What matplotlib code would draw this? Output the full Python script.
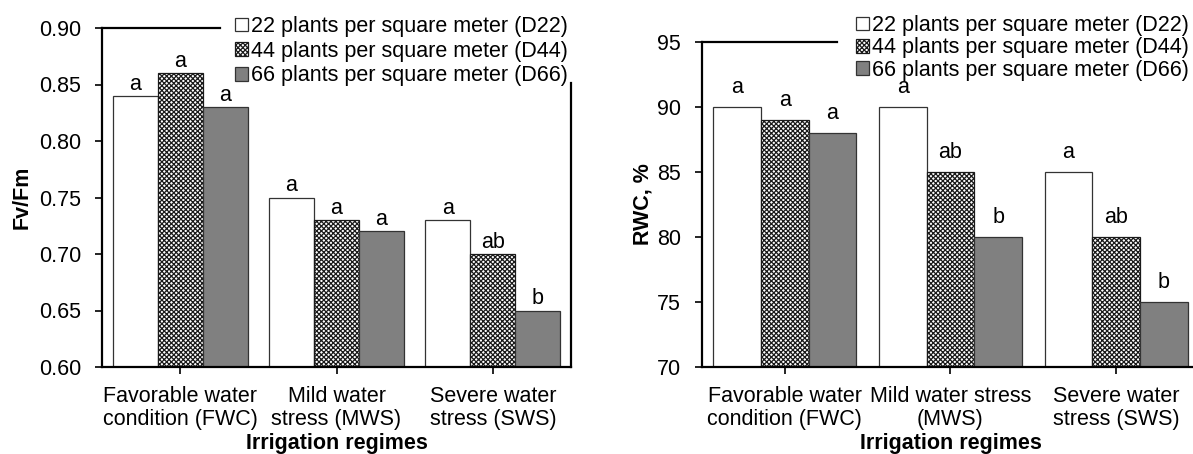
import matplotlib
matplotlib.use("Agg")
import matplotlib.pyplot as plt
import numpy as np

plt.rcParams['font.family'] = ['Liberation Sans', 'DejaVu Sans']
plt.rcParams['hatch.linewidth'] = 0.9

# ---- data ----
categories_left = ["Favorable water\ncondition (FWC)", "Mild water\nstress (MWS)", "Severe water\nstress (SWS)"]
categories_right = ["Favorable water\ncondition (FWC)", "Mild water stress\n(MWS)", "Severe water\nstress (SWS)"]
series_names = ["22 plants per square meter (D22)",
                "44 plants per square meter (D44)",
                "66 plants per square meter (D66)"]

fvfm_d22 = [0.84, 0.75, 0.73]
fvfm_d44 = [0.86, 0.73, 0.70]
fvfm_d66 = [0.83, 0.72, 0.65]
fvfm_letters_d22 = ["a", "a", "a"]
fvfm_letters_d44 = ["a", "a", "ab"]
fvfm_letters_d66 = ["a", "a", "b"]

rwc_d22 = [90, 90, 85]
rwc_d44 = [89, 85, 80]
rwc_d66 = [88, 80, 75]
rwc_letters_d22 = ["a", "a", "a"]
rwc_letters_d44 = ["a", "ab", "ab"]
rwc_letters_d66 = ["a", "b", "b"]

fvfm_ticks = [0.60, 0.65, 0.70, 0.75, 0.80, 0.85, 0.90]
rwc_ticks = [70, 75, 80, 85, 90, 95]

# ---- style ----
FS = 15.5
W, H = 1193, 454
fig = plt.figure(figsize=(W / 100, H / 100), dpi=100)

styles = [
    dict(facecolor="white", edgecolor="#333333", hatch=None),
    dict(facecolor="white", edgecolor="#1a1a1a", hatch="xxxxxxx"),
    dict(facecolor="#808080", edgecolor="#333333", hatch=None),
]


def px_rect(x0, x1, ytop, ybot):
    return [x0 / W, 1 - ybot / H, (x1 - x0) / W, (ybot - ytop) / H]


def make_panel(rect, cats, series, letters, ticks, ylim, fmt, ylabel, ylabel_x,
               letter_off, top_cut_px, right_cut_px, legend_anchor_px, legend_spacing):
    ax = fig.add_axes(rect)
    x = np.arange(len(cats))
    bw = 0.288
    for i, (vals, lets, st) in enumerate(zip(series, letters, styles)):
        pos = x + (i - 1) * bw
        ax.bar(pos, vals, width=bw, facecolor=st["facecolor"],
               edgecolor=st["edgecolor"], linewidth=0.9, hatch=st["hatch"],
               label=series_names[i], zorder=2)
        for p, v, l in zip(pos, vals, lets):
            ax.annotate(l, (p, v), xytext=(0, letter_off), textcoords="offset points",
                        ha="center", va="baseline", fontsize=FS)
    ax.set_xlim(-0.5, len(cats) - 0.5)
    ax.set_ylim(*ylim)
    ax.set_yticks(ticks)
    ax.set_yticklabels([fmt.format(t) for t in ticks], fontsize=FS)
    ax.set_xticks(x)
    ax.set_xticklabels(cats, fontsize=FS, linespacing=1.12)
    ax.tick_params(axis="both", direction="out", length=5, width=1.2, color="black")
    ax.tick_params(axis="y", pad=10)
    ax.tick_params(axis="x", pad=9)
    for s in ax.spines.values():
        s.set_linewidth(1.6)
        s.set_color("black")
    # top and right frame lines are hidden by the legend area
    axw = rect[2] * W
    axh = rect[3] * H
    xcut = -0.5 + (top_cut_px - rect[0] * W) / axw * len(cats)
    ax.spines["top"].set_bounds(-0.5, xcut)
    ybot_px = H - rect[1] * H
    ycut = ylim[0] + (ybot_px - right_cut_px) / axh * (ylim[1] - ylim[0])
    ax.spines["right"].set_bounds(ylim[0], ycut)
    ax.set_ylabel(ylabel, fontsize=FS, fontweight="bold")
    ax.yaxis.set_label_coords(ylabel_x, 0.5)
    ax.set_xlabel("Irrigation regimes", fontsize=FS, fontweight="bold", labelpad=2)
    lx, ly = legend_anchor_px
    ax.legend(loc="upper left", bbox_to_anchor=(lx / W, 1 - ly / H),
              bbox_transform=fig.transFigure, frameon=False, fontsize=FS,
              handlelength=0.6, handleheight=0.6, handletextpad=0.15,
              labelspacing=legend_spacing, borderpad=0, borderaxespad=0)
    return ax


make_panel(px_rect(102, 571, 28, 367), categories_left,
           [fvfm_d22, fvfm_d44, fvfm_d66],
           [fvfm_letters_d22, fvfm_letters_d44, fvfm_letters_d66],
           fvfm_ticks, (0.60, 0.90), "{:.2f}", "Fv/Fm", -0.148,
           4.5, 220, 83, (235, 16), 0.17)

make_panel(px_rect(702, 1199, 42, 367), categories_right,
           [rwc_d22, rwc_d44, rwc_d66],
           [rwc_letters_d22, rwc_letters_d44, rwc_letters_d66],
           rwc_ticks, (70, 95), "{:d}", "RWC, %", -0.097,
           10, 837, 83, (856, 15), 0.06)

fig.savefig("out.png", dpi=100)
